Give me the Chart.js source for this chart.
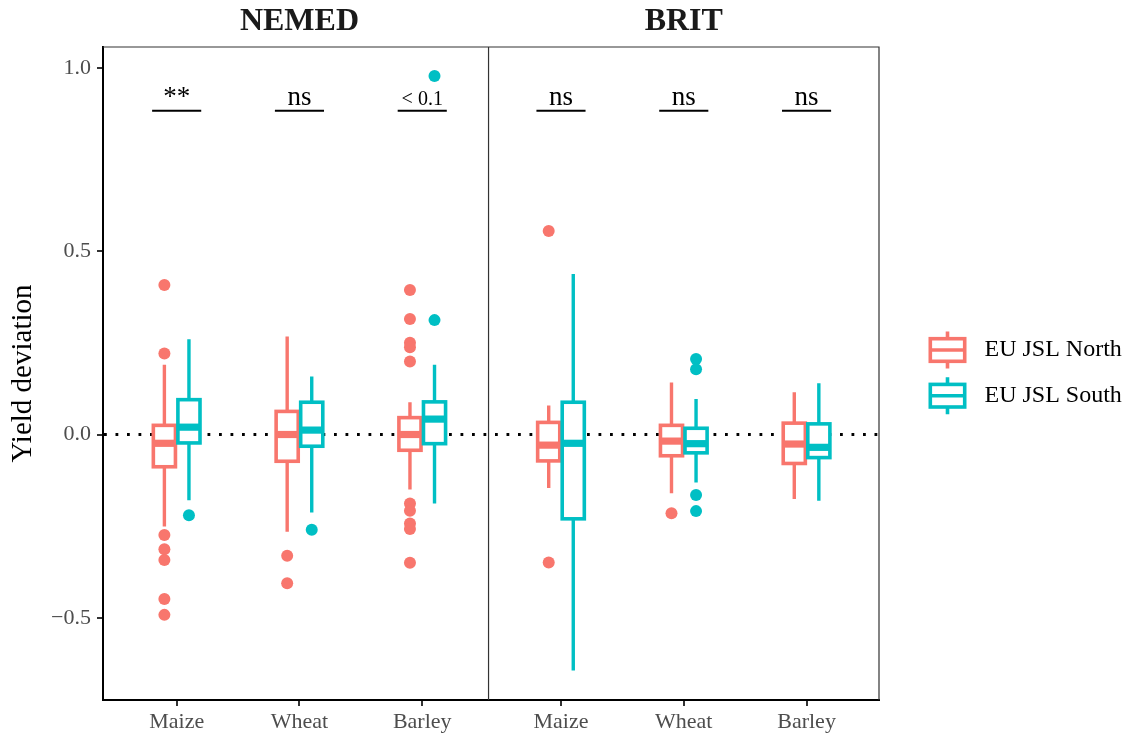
<!DOCTYPE html>
<html>
<head>
<meta charset="utf-8">
<script src="https://cdn.jsdelivr.net/npm/chart.js@4.4.0/dist/chart.umd.min.js"></script>
<style>
  html, body { margin: 0; padding: 0; background: #fff; }
  canvas { display: block; }
</style>
</head>
<body>
<canvas id="chart" width="1130" height="737"></canvas>
<script>
const facets = ['NEMED', 'BRIT'];
const crops = ['Maize', 'Wheat', 'Barley'];
const groups = ['EU JSL North', 'EU JSL South'];
const colors = ['#F8766D', '#00BFC4'];

// order of every array: NEMED maize, wheat, barley, then BRIT maize, wheat, barley
const northLow  = [-0.251, -0.265, -0.150, -0.146, -0.160, -0.176];
const northQ1   = [-0.088, -0.073, -0.043, -0.072, -0.058, -0.079];
const northMed  = [-0.024,  0.000,  0.000, -0.029, -0.018, -0.026];
const northQ3   = [ 0.025,  0.063,  0.046,  0.033,  0.025,  0.031];
const northHigh = [ 0.190,  0.267,  0.088,  0.079,  0.142,  0.115];
const northOut  = [
  [0.408, 0.221, -0.274, -0.313, -0.342, -0.449, -0.492],
  [-0.331, -0.406],
  [0.394, 0.315, 0.250, 0.238, 0.199, -0.188, -0.208, -0.243, -0.258, -0.350],
  [0.555, -0.349],
  [-0.215],
  []
];

const southLow  = [-0.179, -0.213, -0.188, -0.644, -0.131, -0.181];
const southQ1   = [-0.023, -0.032, -0.025, -0.230, -0.050, -0.063];
const southMed  = [ 0.020,  0.012,  0.042, -0.024, -0.025, -0.035];
const southQ3   = [ 0.095,  0.088,  0.089,  0.088,  0.017,  0.029];
const southHigh = [ 0.260,  0.158,  0.190,  0.438,  0.097,  0.140];
const southOut  = [
  [-0.220],
  [-0.260],
  [0.978, 0.312],
  [],
  [0.206, 0.178, -0.165, -0.209],
  []
];

const signifLabels = ['**', 'ns', '< 0.1', 'ns', 'ns', 'ns'];
const signifLevel = 0.883;
const yTicks = [-0.5, 0, 0.5, 1.0];

const stats = [
  { low: northLow, q1: northQ1, med: northMed, q3: northQ3, high: northHigh, out: northOut },
  { low: southLow, q1: southQ1, med: southMed, q3: southQ3, high: southHigh, out: southOut }
];

// x layout of the two facets on one linear axis
const facetStart = [1, 4.13];
const dividerAt = 3.54;
const dodge = [-0.1, 0.1];
const boxHalf = 0.09;
function catPos(i) { return facetStart[Math.floor(i / 3)] + (i % 3); }

const serif = "'Liberation Serif', 'DejaVu Serif', serif";

const boxPlugin = {
  id: 'boxes',
  beforeDatasetsDraw(chart) {
    const { ctx, chartArea, scales: { x, y } } = chart;
    ctx.save();
    // zero reference line
    ctx.strokeStyle = '#000';
    ctx.lineWidth = 2.8;
    ctx.setLineDash([2.8, 8.7]);
    ctx.beginPath();
    ctx.moveTo(chartArea.left + 1, y.getPixelForValue(0));
    ctx.lineTo(chartArea.right, y.getPixelForValue(0));
    ctx.stroke();
    ctx.setLineDash([]);

    stats.forEach((s, g) => {
      ctx.strokeStyle = colors[g];
      for (let i = 0; i < 6; i++) {
        const cx = catPos(i) + dodge[g];
        const px = x.getPixelForValue(cx);
        const half = x.getPixelForValue(cx + boxHalf) - px;
        const yLow = y.getPixelForValue(s.low[i]);
        const yQ1 = y.getPixelForValue(s.q1[i]);
        const yMed = y.getPixelForValue(s.med[i]);
        const yQ3 = y.getPixelForValue(s.q3[i]);
        const yHigh = y.getPixelForValue(s.high[i]);
        ctx.lineWidth = 3.4;
        ctx.beginPath();
        ctx.moveTo(px, yHigh); ctx.lineTo(px, yQ3);
        ctx.moveTo(px, yQ1); ctx.lineTo(px, yLow);
        ctx.stroke();
        ctx.fillStyle = '#fff';
        ctx.fillRect(px - half, yQ3, 2 * half, yQ1 - yQ3);
        ctx.lineWidth = 3.6;
        ctx.strokeRect(px - half, yQ3, 2 * half, yQ1 - yQ3);
        ctx.lineWidth = 7.2;
        ctx.beginPath();
        ctx.moveTo(px - half, yMed); ctx.lineTo(px + half, yMed);
        ctx.stroke();
      }
    });
    ctx.restore();
  },
  afterDatasetsDraw(chart) {
    const { ctx, chartArea, scales: { x, y } } = chart;
    ctx.save();
    // significance marks
    const ly = y.getPixelForValue(signifLevel);
    signifLabels.forEach((lab, i) => {
      const c = catPos(i);
      ctx.strokeStyle = '#000';
      ctx.lineWidth = 2;
      ctx.beginPath();
      ctx.moveTo(x.getPixelForValue(c - 0.2), ly);
      ctx.lineTo(x.getPixelForValue(c + 0.2), ly);
      ctx.stroke();
      ctx.fillStyle = '#000';
      ctx.textAlign = 'center';
      ctx.textBaseline = 'alphabetic';
      ctx.font = (lab === '< 0.1' ? '20px ' : '27px ') + serif;
      ctx.fillText(lab, x.getPixelForValue(c), ly - 5.5);
    });

    // panel border and facet divider
    ctx.strokeStyle = '#333';
    ctx.lineWidth = 1.2;
    ctx.beginPath();
    ctx.moveTo(chartArea.left, chartArea.top);
    ctx.lineTo(chartArea.right, chartArea.top);
    ctx.lineTo(chartArea.right, chartArea.bottom);
    const dx = x.getPixelForValue(dividerAt);
    ctx.moveTo(dx, chartArea.top);
    ctx.lineTo(dx, chartArea.bottom);
    ctx.stroke();

    // facet titles
    ctx.fillStyle = '#1a1a1a';
    ctx.font = 'bold 32px ' + serif;
    ctx.textAlign = 'center';
    ctx.textBaseline = 'alphabetic';
    facets.forEach((f, k) => {
      ctx.fillText(f, x.getPixelForValue(facetStart[k] + 1), 30);
    });

    // legend
    const midY = (chartArea.top + chartArea.bottom) / 2;
    const lx = chartArea.right + 68.5;
    groups.forEach((gName, g) => {
      const cy = midY - 23.5 + g * 45.7;
      ctx.strokeStyle = colors[g];
      ctx.lineWidth = 3.6;
      ctx.beginPath();
      ctx.moveTo(lx, cy - 18.5); ctx.lineTo(lx, cy - 11.3);
      ctx.moveTo(lx, cy + 11.3); ctx.lineTo(lx, cy + 18.5);
      ctx.stroke();
      ctx.strokeRect(lx - 17.2, cy - 11.3, 34.4, 22.6);
      ctx.beginPath();
      ctx.moveTo(lx - 17.2, cy); ctx.lineTo(lx + 17.2, cy);
      ctx.stroke();
      ctx.fillStyle = '#000';
      ctx.font = '24px ' + serif;
      ctx.textAlign = 'left';
      ctx.textBaseline = 'middle';
      ctx.fillText(gName, lx + 37, cy);
    });
    ctx.restore();
  }
};

const datasets = groups.map((gName, g) => ({
  label: gName,
  data: stats[g].out.flatMap((vals, i) => vals.map(v => ({ x: catPos(i) + dodge[g], y: v }))),
  pointRadius: 6,
  pointHoverRadius: 6,
  pointBackgroundColor: colors[g],
  pointBorderWidth: 0,
  showLine: false
}));

new Chart(document.getElementById('chart'), {
  type: 'scatter',
  data: { datasets: datasets },
  plugins: [boxPlugin],
  options: {
    responsive: false,
    animation: false,
    devicePixelRatio: 1,
    layout: { padding: { top: 47, right: 251, left: 0, bottom: 0 } },
    plugins: { legend: { display: false }, tooltip: { enabled: false } },
    scales: {
      x: {
        type: 'linear',
        min: 0.4,
        max: 6.72,
        afterBuildTicks: s => { s.ticks = [0, 1, 2, 3, 4, 5].map(i => ({ value: catPos(i) })); },
        afterFit: s => { s.height = 37; },
        ticks: {
          autoSkip: false,
          maxRotation: 0,
          padding: 3,
          color: '#4D4D4D',
          font: { family: serif, size: 22 },
          callback: (v, i) => crops[i % 3]
        },
        grid: { drawOnChartArea: false, drawTicks: true, tickLength: 6, color: '#333', lineWidth: 2 },
        border: { display: true, color: '#000', width: 2 }
      },
      y: {
        min: -0.7242,
        max: 1.057,
        afterBuildTicks: s => { s.ticks = yTicks.map(v => ({ value: v })); },
        afterFit: s => { s.width = 103; },
        ticks: {
          padding: 6,
          color: '#4D4D4D',
          font: { family: serif, size: 22 },
          callback: v => (v < 0 ? '\u2212' + Math.abs(v).toFixed(1) : v.toFixed(1))
        },
        grid: { drawOnChartArea: false, drawTicks: true, tickLength: 6, color: '#333', lineWidth: 2 },
        border: { display: true, color: '#000', width: 2 },
        title: {
          display: true,
          text: 'Yield deviation',
          color: '#000',
          font: { family: serif, size: 29 },
          padding: { top: 6, bottom: 4 }
        }
      }
    }
  }
});
</script>
</body>
</html>
